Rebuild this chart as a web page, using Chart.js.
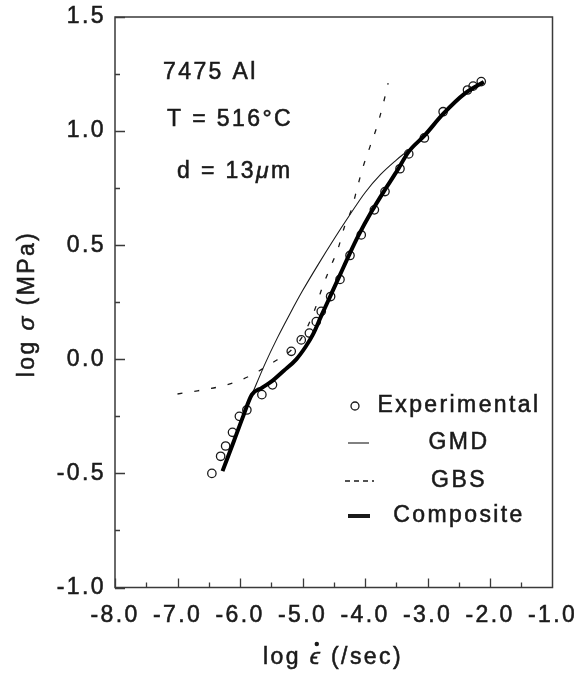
<!DOCTYPE html>
<html>
<head>
<meta charset="utf-8">
<script src="https://cdn.jsdelivr.net/npm/chart.js@4.4.1/dist/chart.umd.min.js"></script>
<style>
  html, body { margin: 0; padding: 0; background: #fff; }
  #wrap { width: 574px; height: 677px; }
</style>
</head>
<body>
<div id="wrap"><canvas id="c" width="574" height="677"></canvas></div>
<script>
// ---------- DATA ----------
const xTickLabels = ['-8.0', '-7.0', '-6.0', '-5.0', '-4.0', '-3.0', '-2.0', '-1.0'];
const yTickLabels = ['-1.0', '-0.5', '0.0', '0.5', '1.0', '1.5'];

const expX = [-6.45, -6.31, -6.23, -6.12, -6.01, -5.89, -5.65, -5.48, -5.18, -5.02, -4.89, -4.78, -4.70, -4.55, -4.40, -4.24, -4.06, -3.85, -3.68, -3.44, -3.30, -3.05, -2.75, -2.36, -2.27, -2.14];
const expY = [-0.50, -0.425, -0.38, -0.32, -0.25, -0.222, -0.155, -0.112, 0.035, 0.085, 0.115, 0.165, 0.21, 0.275, 0.35, 0.455, 0.545, 0.655, 0.735, 0.835, 0.90, 0.97, 1.085, 1.18, 1.197, 1.217];

const gmdX = [-5.81, -5.6, -5.4, -5.2, -5.0, -4.75, -4.5, -4.25, -4.0, -3.75, -3.5, -3.3, -3.05, -2.75, -2.4, -2.1];
const gmdY = [-0.155, -0.02, 0.095, 0.2, 0.3, 0.415, 0.525, 0.63, 0.73, 0.81, 0.873, 0.918, 0.98, 1.075, 1.165, 1.215];

const gbsX = [-7.0, -6.68, -6.33, -5.98, -5.69, -5.41, -5.2, -5.0, -4.8, -4.69, -4.56, -4.43, -4.33, -4.21, -4.12, -4.03, -3.92, -3.81, -3.72, -3.63];
const gbsY = [-0.152, -0.138, -0.12, -0.09, -0.05, -0.003, 0.035, 0.10, 0.22, 0.31, 0.40, 0.486, 0.58, 0.662, 0.756, 0.844, 0.932, 1.019, 1.107, 1.21];

const compX = [-6.28, -6.1, -5.95, -5.81, -5.65, -5.5, -5.3, -5.1, -4.95, -4.83, -4.7, -4.55, -4.4, -4.25, -4.1, -3.9, -3.7, -3.5, -3.3, -3.05, -2.75, -2.4, -2.1];
const compY = [-0.49, -0.36, -0.25, -0.155, -0.125, -0.098, -0.05, 0.0, 0.055, 0.11, 0.19, 0.28, 0.37, 0.46, 0.545, 0.645, 0.735, 0.82, 0.91, 0.98, 1.075, 1.165, 1.215];

const seriesNames = ['Experimental', 'GMD', 'GBS', 'Composite'];
const noteLines = ['7475 Al', 'T = 516°C', 'd = 13', 'μ', 'm'];

// ---------- helpers ----------
const zip = (xs, ys) => xs.map((x, i) => ({ x: x, y: ys[i] }));
const FAMILY = '"Liberation Sans", Arial, Helvetica, sans-serif';
const FSIZE = 23;
const LS = '2.4px';
const INK = '#1a1a1a';
const TSTROKE = 0.55;

function drawRich(ctx, segs, x, y, align) {
  ctx.save();
  try { ctx.letterSpacing = LS; } catch (e) {}
  ctx.textBaseline = 'middle';
  ctx.textAlign = 'left';
  ctx.fillStyle = INK;
  ctx.strokeStyle = INK;
  ctx.lineWidth = TSTROKE;
  let total = 0;
  const widths = segs.map(s => {
    ctx.font = (s.italic ? 'italic ' : '') + FSIZE + 'px ' + FAMILY;
    const w = ctx.measureText(s.t).width;
    total += w;
    return w;
  });
  let cx = align === 'center' ? x - total / 2 : x;
  const pos = [];
  segs.forEach((s, i) => {
    ctx.font = (s.italic ? 'italic ' : '') + FSIZE + 'px ' + FAMILY;
    ctx.fillText(s.t, cx, y);
    ctx.strokeText(s.t, cx, y);
    pos.push({ x: cx, w: widths[i] });
    cx += widths[i];
  });
  ctx.restore();
  return pos;
}

const framePlugin = {
  id: 'frame',
  beforeDraw(chart) {
    try { chart.ctx.letterSpacing = LS; } catch (e) {}
  },
  afterDraw(chart) {
    const ctx = chart.ctx;
    const a = chart.chartArea;
    const xs = chart.scales.x, ys = chart.scales.y;
    ctx.save();
    ctx.strokeStyle = '#3a3a3a';
    ctx.lineWidth = 1.5;
    ctx.strokeRect(a.left, a.top, a.right - a.left, a.bottom - a.top);
    // inward ticks
    ctx.lineWidth = 1.3;
    ctx.beginPath();
    for (let v = -8; v <= -1.0001; v += 0.5) {
      const px = Math.round(xs.getPixelForValue(v)) + 0.5;
      const major = Math.abs(v - Math.round(v)) < 1e-6;
      ctx.moveTo(px, a.bottom);
      ctx.lineTo(px, a.bottom - (major ? 9 : 5));
    }
    for (let v = -1; v <= 1.5001; v += 0.25) {
      const py = Math.round(ys.getPixelForValue(v)) + 0.5;
      const major = Math.abs(v * 2 - Math.round(v * 2)) < 1e-6;
      ctx.moveTo(a.left, py);
      ctx.lineTo(a.left + (major ? 10 : 5), py);
    }
    ctx.stroke();
    ctx.restore();

    // axis titles
    const p = drawRich(ctx, [{ t: 'log ' }, { t: 'ϵ', italic: true }, { t: ' (/sec)' }], 333, 658, 'center');
    ctx.save();
    ctx.fillStyle = INK;
    ctx.beginPath();
    ctx.arc(p[1].x + (p[1].w - 2.4) / 2 + 2, 644, 2.2, 0, Math.PI * 2);
    ctx.fill();
    ctx.restore();

    ctx.save();
    ctx.translate(28, 304);
    ctx.rotate(-Math.PI / 2);
    drawRich(ctx, [{ t: 'log ' }, { t: 'σ', italic: true }, { t: ' (MPa)' }], 0, 0, 'center');
    ctx.restore();

    // annotations
    drawRich(ctx, [{ t: noteLines[0] }], 163, 73, 'left');
    drawRich(ctx, [{ t: noteLines[1] }], 167, 120, 'left');
    drawRich(ctx, [{ t: noteLines[2] }, { t: noteLines[3], italic: true }, { t: noteLines[4] }], 177, 172, 'left');

    // legend
    const ds = chart.data.datasets;
    const textX = 459;
    const rows = [406, 443, 481, 516];
    ctx.save();
    ctx.strokeStyle = INK; ctx.lineWidth = 1.3;
    ctx.beginPath(); ctx.arc(355, rows[0], 4, 0, Math.PI * 2); ctx.stroke();
    ctx.lineWidth = ds[1].borderWidth; ctx.setLineDash([]);
    ctx.beginPath(); ctx.moveTo(348, rows[1]); ctx.lineTo(369, rows[1]); ctx.stroke();
    ctx.lineWidth = ds[2].borderWidth; ctx.setLineDash([5, 4]);
    ctx.beginPath(); ctx.moveTo(345, rows[2]); ctx.lineTo(374, rows[2]); ctx.stroke();
    ctx.setLineDash([]); ctx.lineWidth = ds[3].borderWidth;
    ctx.beginPath(); ctx.moveTo(348, rows[3]); ctx.lineTo(370, rows[3]); ctx.stroke();
    ctx.restore();
    seriesNames.forEach((n, i) => drawRich(ctx, [{ t: n }], textX, rows[i], 'center'));
  }
};

new Chart(document.getElementById('c'), {
  type: 'scatter',
  data: {
    datasets: [
      {
        label: seriesNames[0], data: zip(expX, expY), order: 4,
        pointStyle: 'circle', pointRadius: 4.2, pointBorderWidth: 1.3,
        pointBackgroundColor: 'rgba(0,0,0,0)', pointBorderColor: INK, showLine: false
      },
      {
        label: seriesNames[1], data: zip(gmdX, gmdY), order: 2, showLine: true,
        borderColor: INK, borderWidth: 1.1, pointRadius: 0, cubicInterpolationMode: 'monotone'
      },
      {
        label: seriesNames[2], data: zip(gbsX, gbsY), order: 3, showLine: true,
        borderColor: INK, borderWidth: 1.3, borderDash: [5, 12], pointRadius: 0, cubicInterpolationMode: 'monotone'
      },
      {
        label: seriesNames[3], data: zip(compX, compY), order: 1, showLine: true,
        borderColor: '#000', borderWidth: 4, pointRadius: 0, cubicInterpolationMode: 'monotone',
        borderCapStyle: 'butt', borderJoinStyle: 'round'
      }
    ]
  },
  options: {
    responsive: false,
    animation: false,
    devicePixelRatio: 1,
    layout: { padding: { left: 0, right: 21.5, top: 17, bottom: 0 } },
    plugins: { legend: { display: false }, tooltip: { enabled: false } },
    scales: {
      x: {
        type: 'linear', min: -8, max: -1,
        grid: { display: false, drawTicks: false },
        border: { display: false },
        ticks: {
          stepSize: 1, padding: 14, color: INK,
          textStrokeColor: INK, textStrokeWidth: TSTROKE,
          font: { family: FAMILY, size: FSIZE },
          callback: (v) => xTickLabels[Math.round(v + 8)],
          maxRotation: 0, autoSkip: false
        },
        afterFit(s) { s.height = 89.5; s.paddingLeft = 0; s.paddingRight = 0; }
      },
      y: {
        type: 'linear', min: -1, max: 1.5,
        grid: { display: false, drawTicks: false },
        border: { display: false },
        ticks: {
          stepSize: 0.5, padding: 9, color: INK,
          textStrokeColor: INK, textStrokeWidth: TSTROKE,
          font: { family: FAMILY, size: FSIZE },
          callback: (v) => yTickLabels[Math.round((v + 1) * 2)],
          autoSkip: false
        },
        afterFit(s) { s.width = 115; s.paddingTop = 0; s.paddingBottom = 0; }
      }
    }
  },
  plugins: [framePlugin]
});
</script>
</body>
</html>
